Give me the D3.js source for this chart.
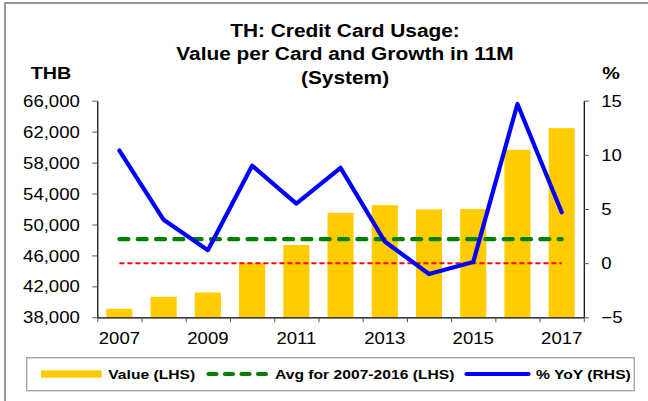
<!DOCTYPE html>
<html>
<head>
<meta charset="utf-8">
<script src="https://cdnjs.cloudflare.com/ajax/libs/d3/7.8.5/d3.min.js"></script>
<style>
  body { margin: 0; background: #fff; }
  svg { display: block; font-family: "Liberation Sans", Arial, sans-serif; }
</style>
</head>
<body>
<div id="chart"></div>
<script>
// data
let years = ["2007","2008","2009","2010","2011","2012","2013","2014","2015","2016","2017"];
let labelYears = ["2007","2009","2011","2013","2015","2017"];
let valuePerCard = [39100, 40650, 41200, 45000, 47350, 51500, 52500, 51950, 52000, 59650, 62450]; // THB, LHS
let avgLine = [48100, 48100, 48100, 48100, 48100, 48100, 48100, 48100, 48100, 48100, 48100]; // avg 2007-2016, LHS
let yoy = [10.4, 4.0, 1.2, 9.0, 5.5, 8.8, 2.0, -1.0, 0.1, 14.7, 4.7]; // %, RHS
let zeroLine = [0, 0, 0, 0, 0, 0, 0, 0, 0, 0, 0]; // RHS
let leftTicks = [38000, 42000, 46000, 50000, 54000, 58000, 62000, 66000];
let rightTicks = [-5, 0, 5, 10, 15];
let titleLines = ["TH: Credit Card Usage:", "Value per Card and Growth in 11M", "(System)"];

let w = 648, h = 401;
let plotL = 97.3, plotR = 583.8, plotT = 100.7, plotB = 317.3;
let sx = 1.16; // the original picture is stretched sideways a little

let svg = d3.select("#chart").append("svg")
  .attr("width", w)
  .attr("height", h);

// outer frame (cut off on the right and bottom)
svg.append("rect")
  .attr("x", 5).attr("y", 3)
  .attr("width", 660).attr("height", 420)
  .attr("fill", "none")
  .attr("stroke", "#7f7f7f")
  .attr("stroke-width", 1.6);

// scales
let x = d3.scaleBand().domain(years).range([plotL, plotR]).padding(0);
let xIdx = d3.scaleLinear().domain([0, years.length]).range([plotL, plotR]);
let yL = d3.scaleLinear().domain([38000, 66000]).range([plotB, plotT]);
let yR = d3.scaleLinear().domain([-5, 15]).range([plotB, plotT]);
let bw = x.bandwidth();

function stretchedText(g, px, py, str, size, anchor, weight) {
  return g.append("text")
    .attr("transform", "translate(" + px + "," + py + ") scale(" + sx + ",1)")
    .attr("text-anchor", anchor)
    .attr("font-size", size)
    .attr("font-weight", weight)
    .attr("fill", "#000")
    .text(str);
}

// title
titleLines.forEach((t, i) => {
  stretchedText(svg, 345, 36.7 + i * 23.6, t, 18, "middle", "bold");
});
stretchedText(svg, 51, 79, "THB", 17, "middle", "bold");
stretchedText(svg, 611, 79, "%", 17, "middle", "bold");

// bars
svg.selectAll(".bar")
  .data(years)
  .enter()
  .append("rect")
  .attr("class", "bar")
  .attr("x", d => x(d) + bw * 0.205)
  .attr("width", bw * 0.59)
  .attr("y", (d, i) => yL(valuePerCard[i]))
  .attr("height", (d, i) => plotB - yL(valuePerCard[i]))
  .attr("fill", "#ffcc00");

let cx = d => x(d) + bw / 2;

// zero line (red, thin dashed)
svg.append("path")
  .datum(zeroLine)
  .attr("d", d3.line().x((d, i) => cx(years[i])).y(d => yR(d)))
  .attr("fill", "none")
  .attr("stroke", "#ff0000")
  .attr("stroke-width", 2)
  .attr("stroke-dasharray", "5,3");

// average line (green, thick dashed)
svg.append("path")
  .datum(avgLine)
  .attr("d", d3.line().x((d, i) => cx(years[i])).y(d => yL(d)))
  .attr("fill", "none")
  .attr("stroke", "#008000")
  .attr("stroke-width", 4.2)
  .attr("stroke-linecap", "round")
  .attr("stroke-dasharray", "9,9.3");

// yoy line
svg.append("path")
  .datum(yoy)
  .attr("d", d3.line().x((d, i) => cx(years[i])).y(d => yR(d)))
  .attr("fill", "none")
  .attr("stroke", "#0000ff")
  .attr("stroke-width", 4.2)
  .attr("stroke-linejoin", "round")
  .attr("stroke-linecap", "round");

// axes
let gL = svg.append("g")
  .attr("transform", "translate(" + plotL + ",0)")
  .call(d3.axisLeft(yL).tickValues(leftTicks).tickSize(5).tickSizeOuter(0).tickFormat(d3.format(",")));
gL.selectAll("text")
  .attr("x", 0).attr("dy", "0.35em")
  .attr("transform", "translate(-17.5,0) scale(" + sx + ",1)");

let gR = svg.append("g")
  .attr("transform", "translate(" + plotR + ",0)")
  .call(d3.axisRight(yR).tickValues(rightTicks).tickSize(5).tickSizeOuter(0));
gR.selectAll("text")
  .attr("x", 0).attr("dy", "0.35em")
  .attr("transform", "translate(17.5,0) scale(" + sx + ",1)");

let gX = svg.append("g")
  .attr("transform", "translate(0," + plotB + ")")
  .call(d3.axisBottom(xIdx).tickValues(d3.range(years.length + 1)).tickSize(5).tickSizeOuter(0).tickFormat(""));

let gXL = svg.append("g")
  .attr("transform", "translate(0," + plotB + ")")
  .call(d3.axisBottom(x).tickValues(labelYears).tickSize(0));
gXL.select(".domain").remove();
gXL.selectAll("text")
  .attr("y", 0).attr("dy", 0)
  .attr("transform", "translate(0,27) scale(" + sx + ",1)");

[gL, gR, gX, gXL].forEach(g => {
  g.selectAll("text").attr("font-size", 16).attr("fill", "#000")
    .attr("font-family", "'Liberation Sans', Arial, sans-serif");
  g.selectAll(".tick line").attr("stroke", "#555");
  g.select(".domain").attr("stroke", "#000").attr("stroke-width", 1.2);
});

// legend
let lg = svg.append("g");
lg.append("rect")
  .attr("x", 26.7).attr("y", 357.7)
  .attr("width", 607.6).attr("height", 33)
  .attr("fill", "#fff")
  .attr("stroke", "#a0a0a0")
  .attr("stroke-width", 1.3);
let ly = 374;
lg.append("rect")
  .attr("x", 41).attr("y", ly - 3.7)
  .attr("width", 60.7).attr("height", 7.4)
  .attr("fill", "#ffcc00");
stretchedText(lg, 108.3, ly + 5, "Value (LHS)", 13.5, "start", "bold");
lg.append("line")
  .attr("x1", 208.5).attr("x2", 268)
  .attr("y1", ly).attr("y2", ly)
  .attr("stroke", "#008000")
  .attr("stroke-width", 4.2)
  .attr("stroke-linecap", "round")
  .attr("stroke-dasharray", "8,8.5");
stretchedText(lg, 275, ly + 5, "Avg for 2007-2016 (LHS)", 13.5, "start", "bold");
lg.append("line")
  .attr("x1", 466.5).attr("x2", 528.5)
  .attr("y1", ly).attr("y2", ly)
  .attr("stroke", "#0000ff")
  .attr("stroke-width", 4.2)
  .attr("stroke-linecap", "round");
stretchedText(lg, 536, ly + 5, "% YoY (RHS)", 13.5, "start", "bold");
</script>
</body>
</html>
